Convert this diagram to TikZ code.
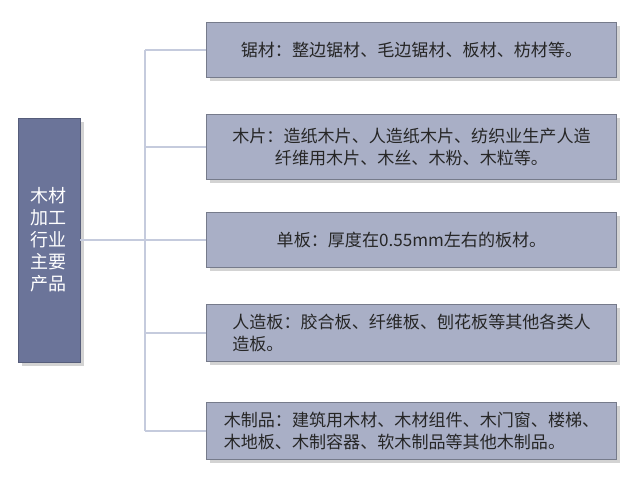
\documentclass[tikz,border=0pt]{standalone}
\usepackage{fontspec}
\setmainfont{Noto Sans CJK SC}
\usetikzlibrary{shadows}
\definecolor{leftfill}{HTML}{6B7499}
\definecolor{rightfill}{HTML}{A9AFC6}
\definecolor{linkcol}{HTML}{C5CBDD}
\tikzset{
  itembox/.style={draw=rightfill!70!black, fill=rightfill, minimum width=307.5pt, align=center,
    font=\fontsize{12.8}{16}\selectfont, text=black!85, drop shadow={opacity=0.35}},
  link/.style={draw=linkcol, line width=0.8pt}
}
\begin{document}
\begin{tikzpicture}[x=0.75pt,y=-0.75pt]
  \useasboundingbox (0,0) rectangle (640,477);
  \node[fill=leftfill, draw=leftfill!80!black, minimum width=46.5pt, minimum height=183pt,
    text=white, align=center, font=\fontsize{13.5}{16.5}\selectfont, drop shadow={opacity=0.35}]
    (main) at (49,240) {木材\\加工\\行业\\主要\\产品};
  \node[itembox, minimum height=41pt] (b1) at (411.5,50) {锯材：整边锯材、毛边锯材、板材、枋材等。};
  \node[itembox, minimum height=49pt] (b2) at (411.5,147) {木片：造纸木片、人造纸木片、纺织业生产人造\\纤维用木片、木丝、木粉、木粒等。};
  \node[itembox, minimum height=41pt] (b3) at (411.5,240) {单板：厚度在0.55mm左右的板材。};
  \node[itembox, minimum height=43pt, align=left] (b4) at (411.5,333) {人造板：胶合板、纤维板、刨花板等其他各类人\\造板。};
  \node[itembox, minimum height=43pt, align=left] (b5) at (411.5,431) {木制品：建筑用木材、木材组件、木门窗、楼梯、\\木地板、木制容器、软木制品等其他木制品。};
  \coordinate (jt) at (145,50);
  \coordinate (jb) at (145,431);
  \draw[link] (main.east) -- (b3.west);
  \draw[link] (jt) -- (jb);
  \foreach \b in {b1,b2,b4,b5}
    \draw[link] (jt |- \b.west) -- (\b.west);
\end{tikzpicture}
\end{document}
